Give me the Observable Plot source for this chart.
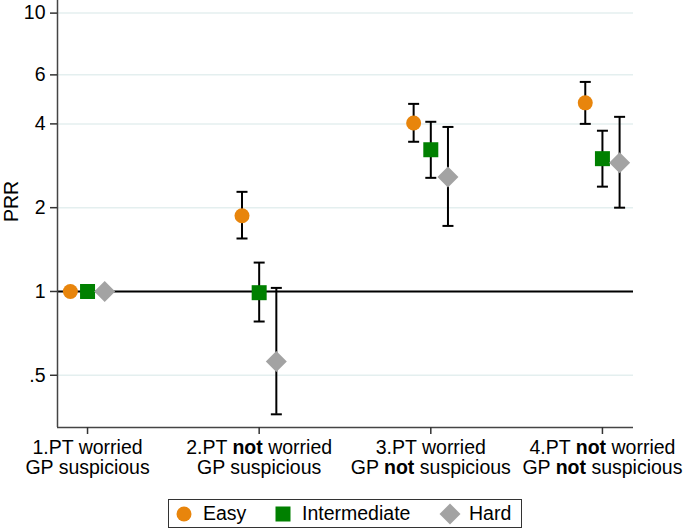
<!DOCTYPE html>
<html>
<head>
<meta charset="utf-8">
<script src="https://cdn.jsdelivr.net/npm/d3@7"></script>
<script src="https://cdn.jsdelivr.net/npm/@observablehq/plot@0.6"></script>
<style>
  body { margin: 0; background: #fff; font-family: "Liberation Sans", Arial, sans-serif; }
  #wrap { position: relative; width: 685px; height: 530px; }
  #legend { position: absolute; left: 168px; top: 499px; width: 352px; height: 27px; border: 1px solid #333; box-sizing: content-box; }
  .li { position: absolute; top: 0; height: 27px; line-height: 27px; font-size: 19.5px; color: #000; }
  .lm { position: absolute; top: 2px; }
</style>
</head>
<body>
<div id="wrap"></div>
<script>
// ---- data ----
const categories = [
  "1.PT worried\nGP suspicious",
  "2.PT not worried\nGP suspicious",
  "3.PT worried\nGP not suspicious",
  "4.PT not worried\nGP not suspicious"
];
const groups = ["Easy", "Intermediate", "Hard"];
const prrEasy = [1, 1.87, 4.03, 4.76];
const prrIntermediate = [1, 0.99, 3.23, 3.00];
const prrHard = [1, 0.56, 2.58, 2.90];
const lowEasy = [null, 1.55, 3.45, 4.00];
const lowIntermediate = [null, 0.78, 2.56, 2.38];
const lowHard = [null, 0.362, 1.72, 2.00];
const highEasy = [null, 2.28, 4.72, 5.66];
const highIntermediate = [null, 1.27, 4.07, 3.78];
const highHard = [null, 1.03, 3.90, 4.24];
const yTicks = [0.5, 1, 2, 4, 6, 10];

// ---- styles ----
const colors = ["#e8850c", "#008000", "#a3a3a3"];
const xDomain = [0.825, 4.181];
const yDomain = [0.3246, 11.1];
const FS = 19.5;

const prr = [prrEasy, prrIntermediate, prrHard];
const low = [lowEasy, lowIntermediate, lowHard];
const high = [highEasy, highIntermediate, highHard];
const rows = [];
groups.forEach((g, gi) => {
  categories.forEach((c, ci) => {
    rows.push({group: g, gi, x: ci + 1 + (gi - 1) * 0.1, prr: prr[gi][ci], lo: low[gi][ci], hi: high[gi][ci]});
  });
});
const ciRows = rows.filter(d => d.lo != null);

const squareSym = {draw(ctx, size) { const r = Math.sqrt(size / Math.PI); ctx.rect(-r, -r, 2 * r, 2 * r); }};
const diamondSym = {draw(ctx, size) { const r = Math.sqrt(size / Math.PI) * 1.4; ctx.moveTo(0, -r); ctx.lineTo(r, 0); ctx.lineTo(0, r); ctx.lineTo(-r, 0); ctx.closePath(); }};
const capSym = {draw(ctx, size) { const r = Math.sqrt(size / Math.PI); ctx.moveTo(-r, 0); ctx.lineTo(r, 0); }};
const syms = ["circle", squareSym, diamondSym];

const chart = Plot.plot({
  width: 685,
  height: 490,
  marginLeft: 57,
  marginRight: 52,
  marginTop: 0,
  marginBottom: 63,
  style: {fontFamily: "'Liberation Sans', Arial, sans-serif", fontSize: FS + "px", color: "#000", background: "#fff"},
  x: {type: "linear", domain: xDomain, axis: null},
  y: {type: "log", domain: yDomain, axis: null},
  marks: [
    Plot.gridY(yTicks, {stroke: "#e4efef", strokeOpacity: 1, strokeWidth: 1.5}),
    Plot.ruleY([1], {stroke: "#000", strokeWidth: 2}),
    Plot.ruleX(ciRows, {x: "x", y1: "lo", y2: "hi", stroke: "#000", strokeWidth: 2}),
    Plot.dot(ciRows, {x: "x", y: "lo", symbol: () => capSym, r: 5.5, stroke: "#000", strokeWidth: 2}),
    Plot.dot(ciRows, {x: "x", y: "hi", symbol: () => capSym, r: 5.5, stroke: "#000", strokeWidth: 2}),
    ...groups.map((g, gi) => Plot.dot(rows.filter(d => d.gi === gi), {x: "x", y: "prr", symbol: () => syms[gi], r: 7.5, fill: colors[gi], stroke: "none"})),
    Plot.ruleX([xDomain[0]], {stroke: "#444", strokeWidth: 1.5}),
    Plot.ruleY([yDomain[0]], {stroke: "#444", strokeWidth: 1.5}),
    Plot.axisY({ticks: yTicks, tickSize: 7, tickPadding: 5, stroke: "#333", strokeWidth: 1.5, fontSize: FS,
      tickFormat: d => String(d).replace(/^0\./, "."), label: null}),
    Plot.axisX({ticks: [1, 2, 3, 4], tickSize: 7, tickPadding: 5, stroke: "#333", strokeWidth: 1.5, fontSize: FS, lineHeight: 1.03,
      tickFormat: d => categories[d - 1], label: null}),
    Plot.text(["PRR"], {frameAnchor: "left", dx: -46, dy: 8, rotate: -90, fontSize: FS, fill: "#000"})
  ]
});

// bold "not" in category labels
d3.select(chart).selectAll('[aria-label="x-axis tick label"] text').each(function() {
  const t = d3.select(this);
  const spans = t.selectAll("tspan");
  const targets = spans.empty() ? [this] : spans.nodes();
  targets.forEach(n => {
    const s = n.textContent;
    if (s.includes("not")) {
      n.innerHTML = s.replace("not", '<tspan font-weight="bold">not</tspan>');
    }
  });
});

const wrap = document.getElementById("wrap");
wrap.appendChild(chart);

// legend
const legend = document.createElement("div");
legend.id = "legend";
const lx = [[15, 34], [114, 133], [281, 300]];
const markerSvg = (gi) => {
  const c = colors[gi];
  if (gi === 0) return `<svg width="24" height="24" viewBox="-12 -12 24 24"><circle r="7.5" fill="${c}"/></svg>`;
  if (gi === 1) return `<svg width="24" height="24" viewBox="-12 -12 24 24"><rect x="-7.5" y="-7.5" width="15" height="15" fill="${c}"/></svg>`;
  return `<svg width="24" height="24" viewBox="-12 -12 24 24"><path d="M0,-10.5L10.5,0L0,10.5L-10.5,0Z" fill="${c}"/></svg>`;
};
groups.forEach((g, gi) => {
  const m = document.createElement("div");
  m.className = "lm";
  m.style.left = (lx[gi][0] - 12) + "px";
  m.innerHTML = markerSvg(gi);
  legend.appendChild(m);
  const t = document.createElement("div");
  t.className = "li";
  t.style.left = lx[gi][1] + "px";
  t.textContent = g;
  legend.appendChild(t);
});
wrap.appendChild(legend);
</script>
</body>
</html>
